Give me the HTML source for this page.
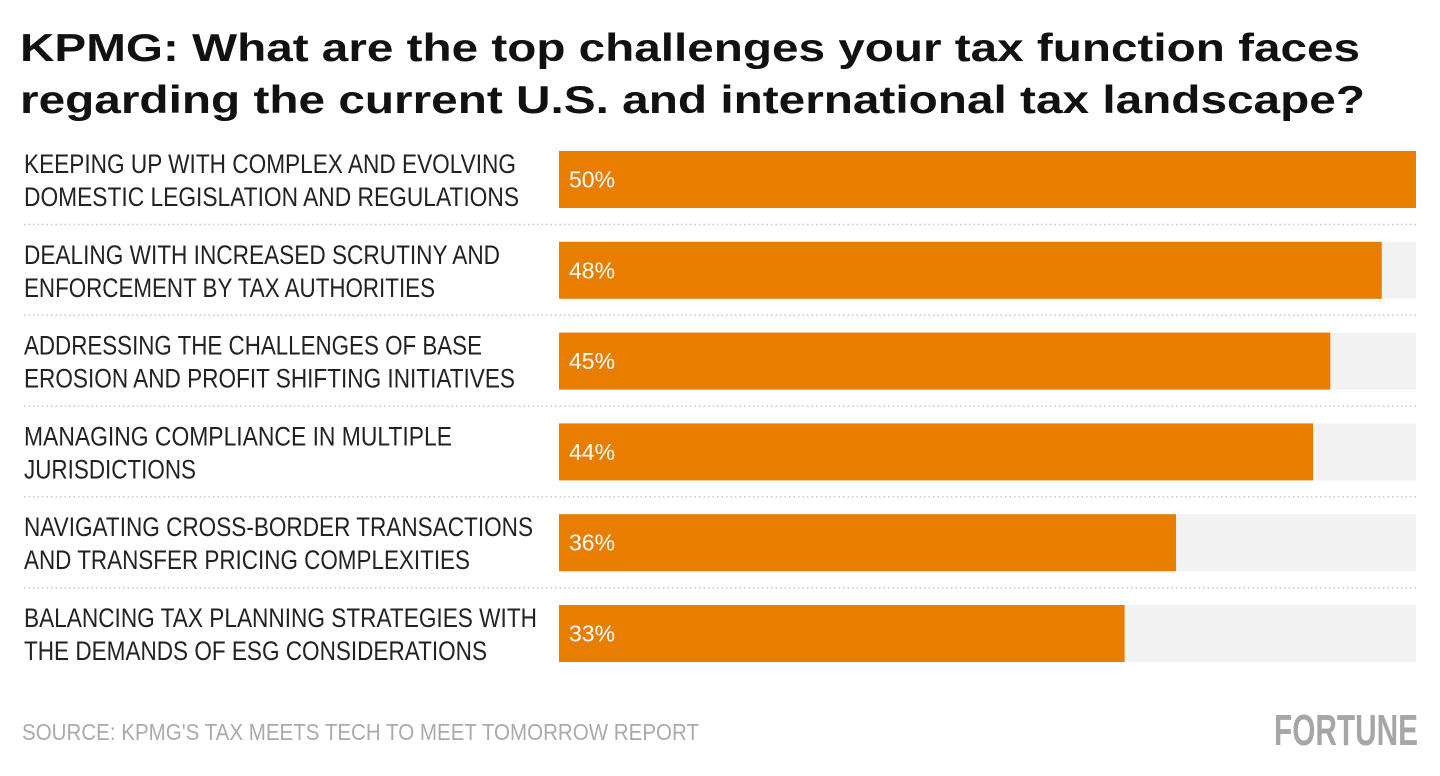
<!DOCTYPE html>
<html><head><meta charset="utf-8"><style>
html,body{margin:0;padding:0;background:#fff;}
svg{display:block;}
</style></head><body>
<svg id="chart" width="1440" height="776" viewBox="0 0 1440 776" xmlns="http://www.w3.org/2000/svg" font-family="'Liberation Sans', sans-serif">
<text x="20" y="61" font-size="39" font-weight="bold" fill="#111" textLength="1340" lengthAdjust="spacingAndGlyphs">KPMG: What are the top challenges your tax function faces</text>
<text x="20" y="113" font-size="39" font-weight="bold" fill="#111" textLength="1345" lengthAdjust="spacingAndGlyphs">regarding the current U.S. and international tax landscape?</text>
<g id="rows"></g>
<text x="22" y="740" font-size="23" fill="#aaa" textLength="677" lengthAdjust="spacingAndGlyphs">SOURCE: KPMG'S TAX MEETS TECH TO MEET TOMORROW REPORT</text>
<text x="1274" y="745" font-size="44" font-weight="bold" fill="#a6a6a6" textLength="144" lengthAdjust="spacingAndGlyphs">FORTUNE</text>
</svg>
<script>
const categoriesLine1 = ["KEEPING UP WITH COMPLEX AND EVOLVING","DEALING WITH INCREASED SCRUTINY AND","ADDRESSING THE CHALLENGES OF BASE","MANAGING COMPLIANCE IN MULTIPLE","NAVIGATING CROSS-BORDER TRANSACTIONS","BALANCING TAX PLANNING STRATEGIES WITH"];
const categoriesLine2 = ["DOMESTIC LEGISLATION AND REGULATIONS","ENFORCEMENT BY TAX AUTHORITIES","EROSION AND PROFIT SHIFTING INITIATIVES","JURISDICTIONS","AND TRANSFER PRICING COMPLEXITIES","THE DEMANDS OF ESG CONSIDERATIONS"];
const values = [50,48,45,44,36,33];
const valueLabels = ["50%","48%","45%","44%","36%","33%"];
const maxValue = 50;

const NS="http://www.w3.org/2000/svg";
const g=document.getElementById('rows');
const x0=559, x1=1416, rowTop=151, rowStep=90.8, barH=57;
const xScale=v=>(v/maxValue)*(x1-x0);
const yScale=i=>rowTop+i*rowStep;
const lw1=[492,476,458,428,509,513];
const lw2=[495,411,491,172,446,463];
function mk(tag,attrs){const e=document.createElementNS(NS,tag);for(const k in attrs)e.setAttribute(k,attrs[k]);return e;}
values.forEach((v,i)=>{
  const y=yScale(i);
  const track=mk('rect',{x:x0,y:y,width:x1-x0,height:barH,fill:'#f2f2f2'});
  
  
  g.appendChild(track);
  const bar=mk('rect',{x:x0,y:y,width:xScale(v),height:barH,fill:'#e87d00'});
  
  
  g.appendChild(bar);
  const vl=mk('text',{x:x0+10,y:y+barH/2+8,'font-size':23,fill:'#fff'});
  vl.textContent=valueLabels[i];
  
  
  g.appendChild(vl);
  const t1=mk('text',{x:24,y:y+22,'font-size':27,fill:'#222',textLength:lw1[i],lengthAdjust:'spacingAndGlyphs'});
  t1.textContent=categoriesLine1[i];
  
  
  g.appendChild(t1);
  const t2=mk('text',{x:24,y:y+55,'font-size':27,fill:'#222',textLength:lw2[i],lengthAdjust:'spacingAndGlyphs'});
  t2.textContent=categoriesLine2[i];
  
  
  g.appendChild(t2);
  if(i<values.length-1){
    const sep=mk('line',{x1:24,x2:x1,y1:y+73.5,y2:y+73.5,stroke:'#c8c8c8','stroke-width':1.5,'stroke-dasharray':'1.5 3'});
    
    
    g.appendChild(sep);
  }
});
</script>
</body></html>
